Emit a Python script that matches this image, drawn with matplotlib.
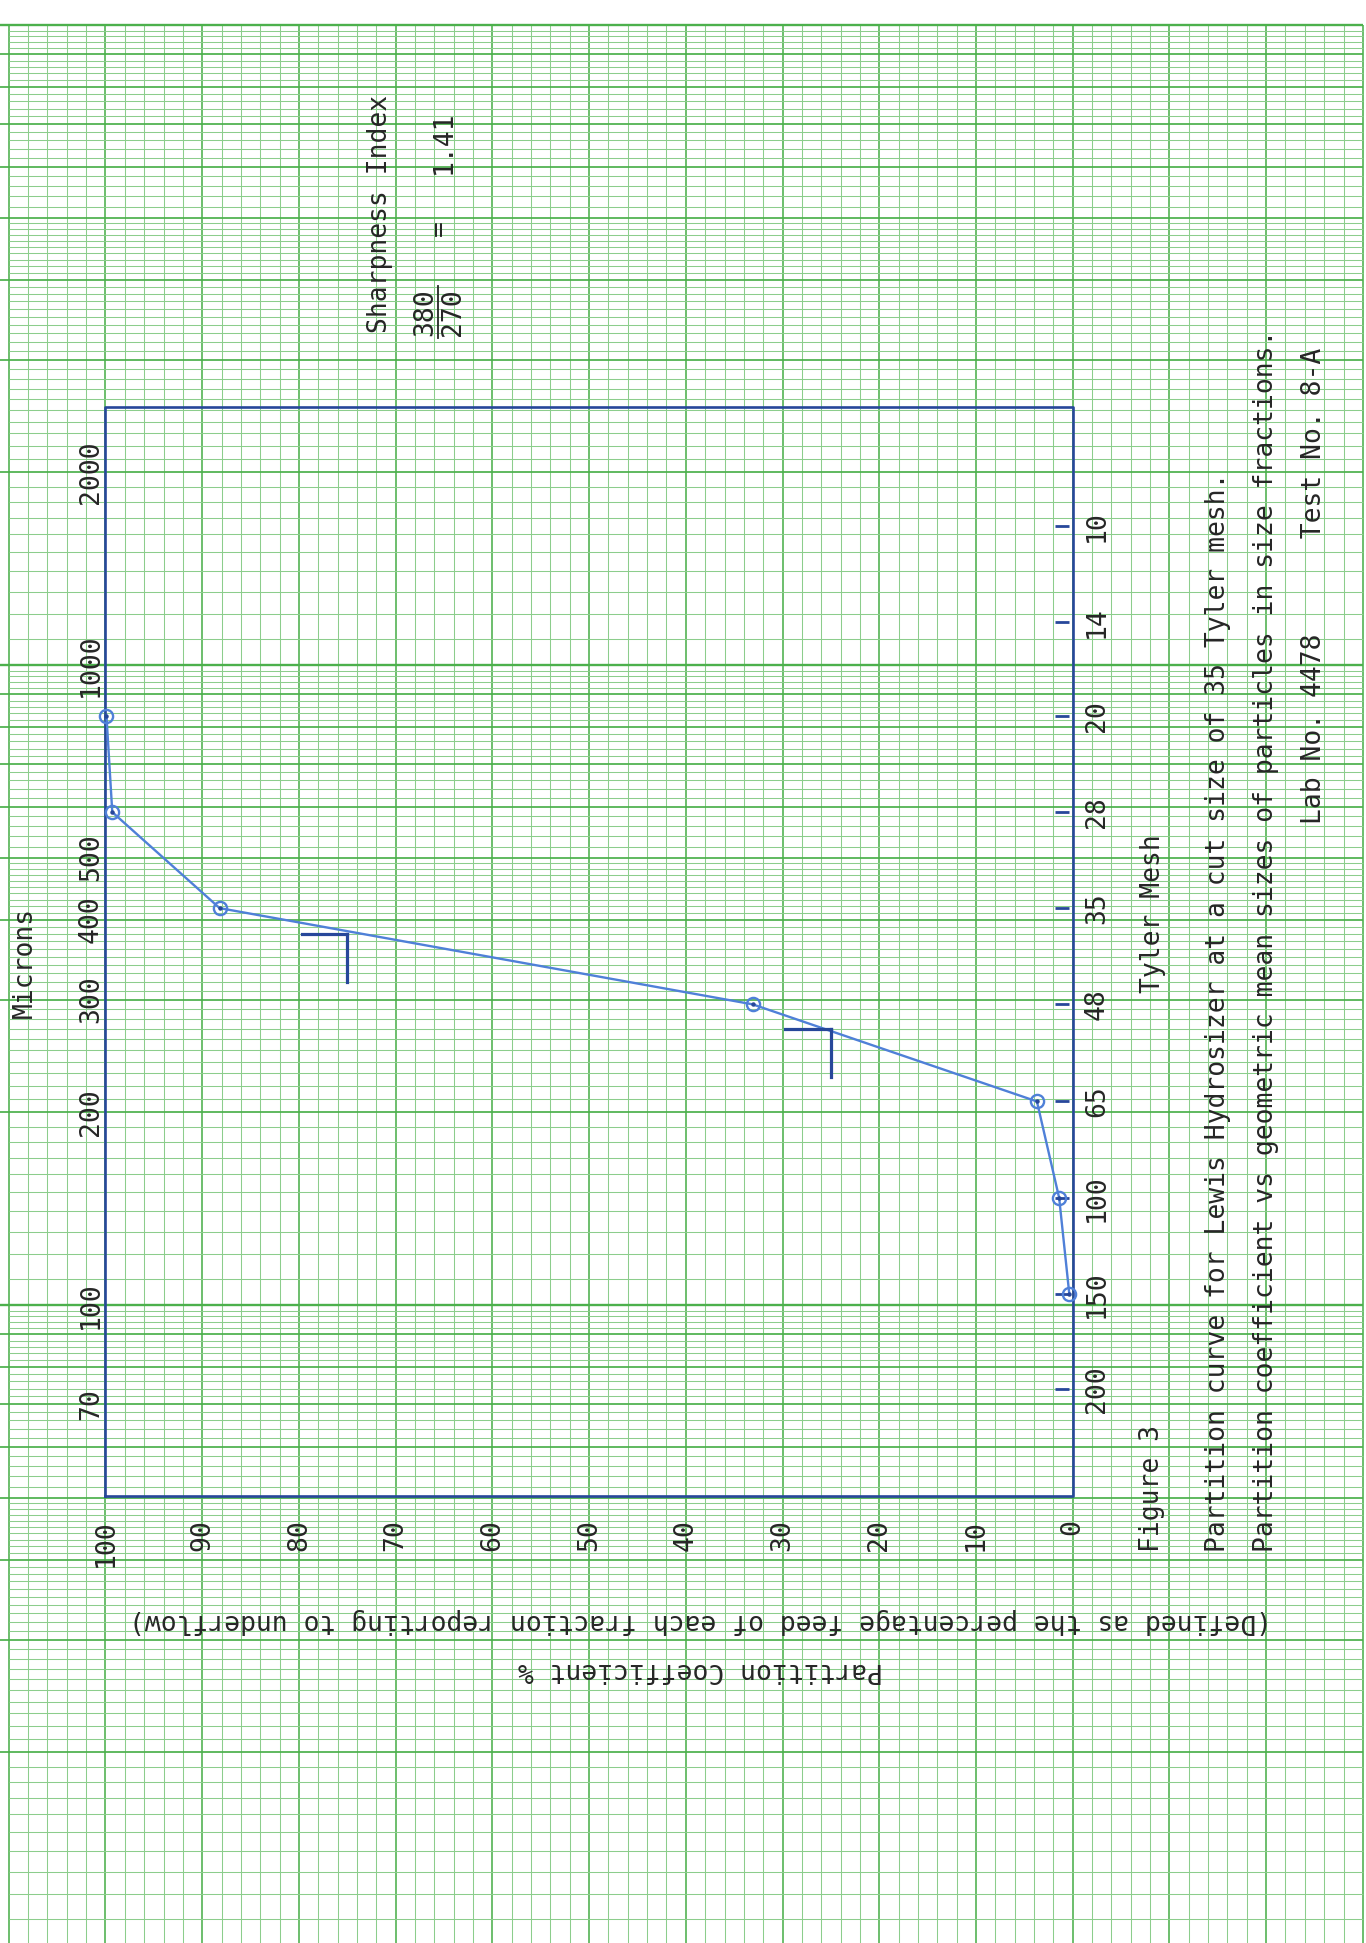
"""Partition curve for the Lewis hydrosizer, drawn on semi-log graph paper.

Sheet is laid out sideways: microns (log) run up the page, partition
coefficient runs right-to-left, and all the lettering is turned with it.
Saved to ``out.png``.
"""
import matplotlib
matplotlib.use("Agg")
import matplotlib.pyplot as plt
from matplotlib.transforms import blended_transform_factory
import numpy as np

W, H = 1366, 1943

# Tyler screen sizes and their openings (microns)
MESH = [10, 14, 20, 28, 35, 48, 65, 100, 150, 200]
MESH_MICRONS = [1651, 1168, 833, 589, 417, 295, 208, 147, 104, 74]

# Partition coefficient (% of feed to underflow) per size fraction
POINT_MICRONS = [833, 589, 417, 295, 208, 147, 104]
PARTITION = [99.9, 99.3, 88.2, 33.1, 3.7, 1.4, 0.35]

# 75 % / 25 % read-offs used for the sharpness index
CUT_PARTITION = [75, 25]
CUT_MICRONS = [380, 270]

MICRON_TICKS = [2000, 1000, 500, 400, 300, 200, 100, 70]
PARTITION_TICKS = [100, 90, 80, 70, 60, 50, 40, 30, 20, 10, 0]
BOX_MICRONS = (50.3, 2530)

# sheet geometry (pixels)
P100_PX, PX_PER_PCT = 105.5, 9.672
M1000_PY, DECADE_PX = 665.0, 640.0

GREEN = "#4cb04c"
GREEN_LIGHT = "#8ccd8c"
BOX_BLUE = "#27479a"
CURVE_BLUE = "#4f80d8"
INK = "#262626"


def page(px, py):
    """Sheet pixel position -> figure fraction."""
    return px / W, 1 - py / H


def draw_paper(ax):
    # --- linear divisions: every 2 %, heavier every 10 % ---
    pcts = np.arange(-30, 111, 2)
    minor = [p for p in pcts if p % 10]
    major = [p for p in pcts if p % 10 == 0]
    ax.vlines(minor, 10, 10000, color=GREEN_LIGHT, lw=0.75, zorder=1)
    ax.vlines(major, 10, 10000, color=GREEN, lw=1.15, zorder=1)

    # --- log cycles: 3 decades, 10 to 10000 ---
    thin, ints, decades = [], [], []
    for dec in (10, 100, 1000):
        for v in np.round(np.arange(1.1, 5.0, 0.1), 1):
            if v != int(v):
                thin.append(v * dec)
        for v in np.round(np.arange(5.2, 10.0, 0.2), 1):
            if v != int(v):
                thin.append(v * dec)
        ints += [k * dec for k in range(2, 10)]
        decades.append(dec)
    decades.append(10000)
    ax.hlines(thin, -30, 110, color=GREEN_LIGHT, lw=0.75, zorder=1)
    ax.hlines(ints, -30, 111, color=GREEN, lw=1.25, zorder=1)
    ax.hlines(decades, -30, 111, color=GREEN, lw=1.7, zorder=1)


def main() -> None:
    plt.rcParams["font.family"] = ["DejaVu Sans Mono", "DejaVu Sans"]
    fig = plt.figure(figsize=(W / 100, H / 100), dpi=100)
    fig.patch.set_facecolor("white")
    ax = fig.add_axes([0, 0, 1, 1])
    ax.set_yscale("log")
    ax.set_xlim(100 + P100_PX / PX_PER_PCT, 100 - (W - P100_PX) / PX_PER_PCT)
    ax.set_ylim(1000 * 10 ** ((M1000_PY - H) / DECADE_PX),
                1000 * 10 ** (M1000_PY / DECADE_PX))
    ax.axis("off")

    draw_paper(ax)

    # --- plot frame ---
    lo, hi = BOX_MICRONS
    ax.plot([100, 100, 0, 0, 100], [lo, hi, hi, lo, lo],
            color=BOX_BLUE, lw=1.9, zorder=3)

    # --- partition curve ---
    ax.plot(PARTITION, POINT_MICRONS, "-", color=CURVE_BLUE, lw=1.7, zorder=4)
    ax.plot(PARTITION, POINT_MICRONS, "o", mfc="none", mec=CURVE_BLUE,
            ms=9.5, mew=1.7, zorder=5)
    ax.plot(PARTITION, POINT_MICRONS, "o", color=BOX_BLUE, ms=2.2, zorder=5)

    # mesh ticks along the 0 % side
    ax.hlines(MESH_MICRONS, 0.4, 1.8, color=BOX_BLUE, lw=2.0, zorder=4)

    # cut-size read-offs
    for p, m in zip(CUT_PARTITION, CUT_MICRONS):
        ax.plot([p + 4.7, p], [m, m], color=BOX_BLUE, lw=2.3, zorder=4)
        ax.plot([p, p], [m, m * 0.84], color=BOX_BLUE, lw=2.3, zorder=4)

    # --- scale lettering ---
    fig_y = blended_transform_factory(fig.transFigure, ax.transData)
    x_fig = blended_transform_factory(ax.transData, fig.transFigure)
    for m in MICRON_TICKS:
        ax.text(91 / W, m, str(m), transform=fig_y, rotation=90,
                rotation_mode="anchor", ha="center", va="center",
                fontsize=19, color=INK)
    for p in PARTITION_TICKS:
        ax.text(p, 1 - 1519 / H, str(p), transform=x_fig, rotation=90,
                rotation_mode="anchor", ha="right", va="center",
                fontsize=19, color=INK)
    for mesh, m in zip(MESH, MESH_MICRONS):
        ax.text(1097 / W, m, str(mesh), transform=fig_y, rotation=90,
                rotation_mode="anchor", ha="center", va="center",
                fontsize=19, color=INK)

    def vtext(px, py, s, ha="left", size=19):
        x, y = page(px, py)
        fig.text(x, y, s, rotation=90, rotation_mode="anchor", ha=ha,
                 va="center", fontsize=size, color=INK)

    vtext(25, 962, "Microns", ha="center")
    vtext(1153, 914, "Tyler Mesh", ha="center")
    vtext(380, 333, "Sharpness Index")
    vtext(425, 312, "380", ha="center")
    vtext(453, 312, "270", ha="center")
    x0, y0 = page(438, 338)
    x1, y1 = page(438, 286)
    fig.add_artist(plt.Line2D([x0, x1], [y0, y1], color=INK, lw=1.3))
    vtext(440, 228, "=", ha="center")
    vtext(444, 142, "1.41", ha="center")

    vtext(1152, 1552, "Figure 3")
    vtext(1218, 1552, "Partition curve for Lewis Hydrosizer at a cut size "
                      "of 35 Tyler mesh.")
    vtext(1266, 1552, "Partition coefficient vs geometric mean sizes of "
                      "particles in size fractions.")
    vtext(1314, 824, "Lab No. 4478      Test No. 8-A")

    # upside-down axis title under the partition scale
    for py, s in [(1621, "(Defined as the percentage feed of each fraction "
                         "reporting to underflow)"),
                  (1670, "Partition Coefficient %")]:
        x, y = page(700, py)
        fig.text(x, y, s, rotation=180, ha="center", va="center",
                 fontsize=19, color=INK)

    fig.savefig("out.png", dpi=100, facecolor="white")


if __name__ == "__main__":
    main()
